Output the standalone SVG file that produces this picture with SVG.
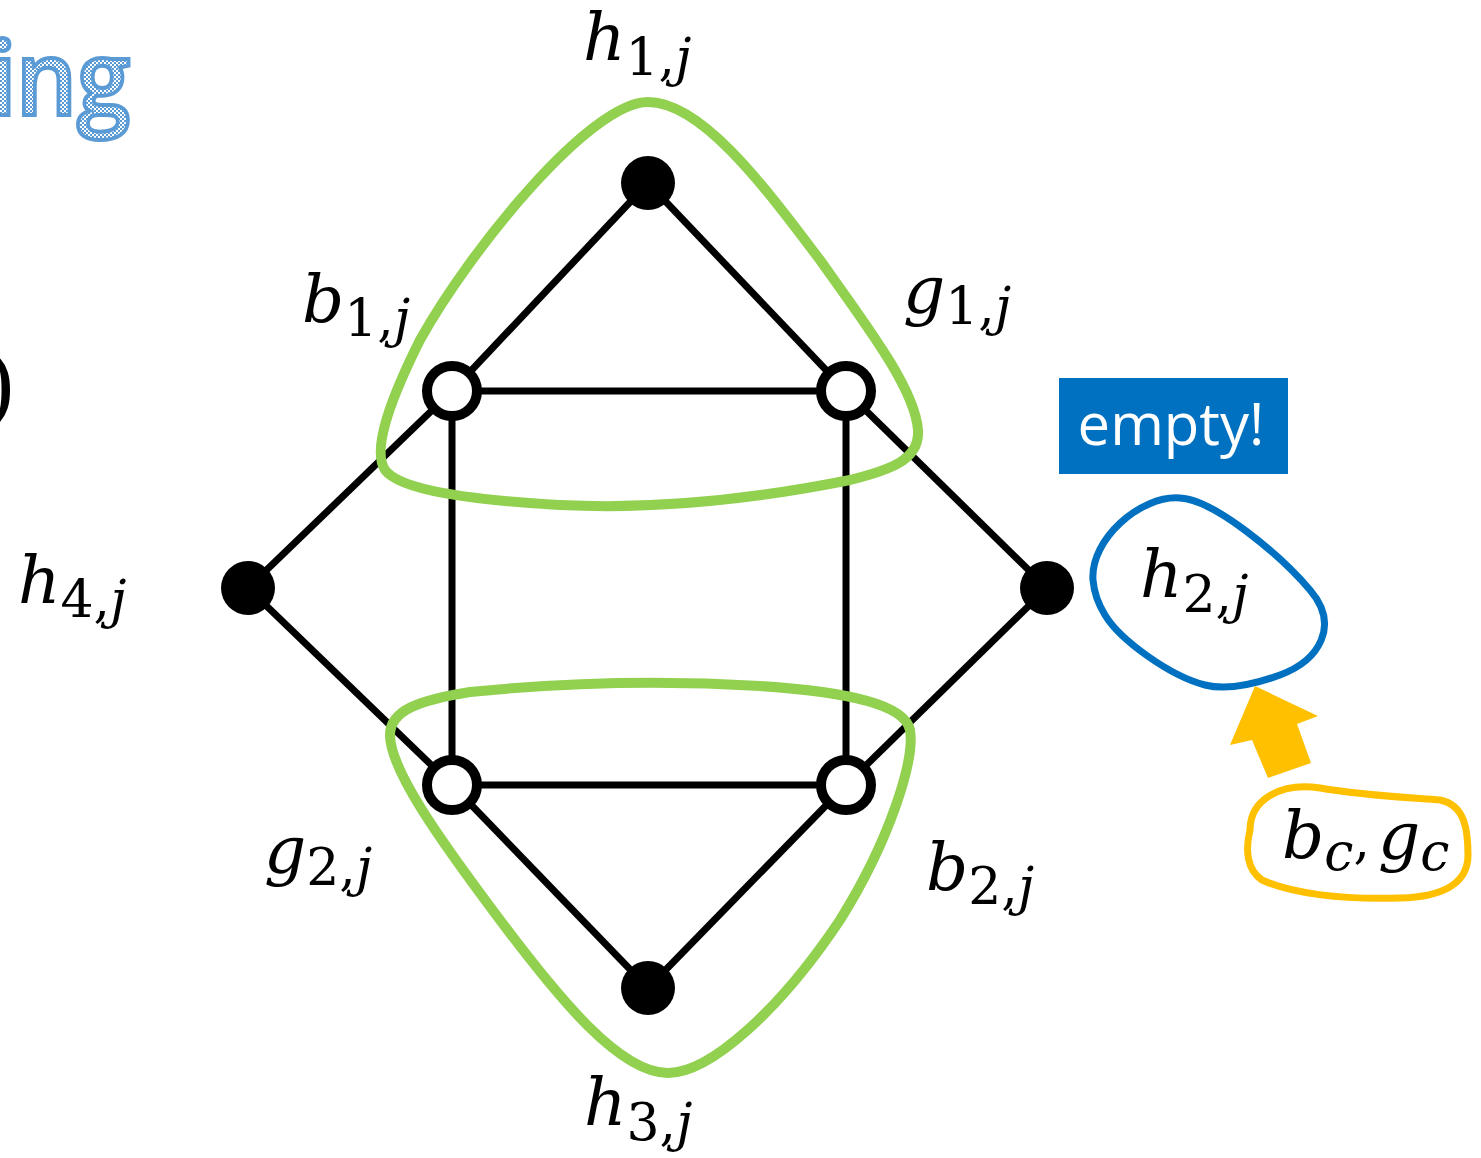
<svg xmlns="http://www.w3.org/2000/svg" width="1481" height="1158" viewBox="0 0 1481 1158">
<defs>
<pattern id="chk" width="4" height="4" patternUnits="userSpaceOnUse">
<rect width="4" height="4" fill="#ffffff"/>
<rect width="2" height="2" fill="#5b9bd5"/>
<rect x="2" y="2" width="2" height="2" fill="#5b9bd5"/>
</pattern>
<style>
.edge{stroke:#000;stroke-width:7;fill:none}
.full{fill:#000}
.open{fill:#fff;stroke:#000;stroke-width:10}
.green{fill:none;stroke:#92d050;stroke-width:10}
.m{font-family:"DejaVu Serif",serif;font-size:66px;fill:#000}
.i{font-style:italic}
.s{font-size:52px}
.ing{font-family:"Open Sans",sans-serif;font-weight:600;font-size:104px;fill:url(#chk);stroke:#5b9bd5;stroke-width:4}
</style>
</defs>
<rect width="1481" height="1158" fill="#fff"/>
<text class="ing" y="115"><tspan x="-12">i</tspan><tspan x="16" textLength="114" lengthAdjust="spacingAndGlyphs">ng</tspan></text>
<text x="14" y="412" text-anchor="end" font-family="Liberation Serif, serif" font-size="90" fill="#000">)</text>

<g id="connectors">
<line class="edge" x1="648" y1="183" x2="452" y2="391"/>
<line class="edge" x1="648" y1="183" x2="846" y2="391"/>
<line class="edge" x1="452" y1="391" x2="846" y2="391"/>
<line class="edge" x1="452" y1="391" x2="248" y2="588"/>
<line class="edge" x1="846" y1="391" x2="1047" y2="588"/>
<line class="edge" x1="452" y1="391" x2="452" y2="785"/>
<line class="edge" x1="846" y1="391" x2="846" y2="785"/>
<line class="edge" x1="248" y1="588" x2="452" y2="785"/>
<line class="edge" x1="1047" y1="588" x2="846" y2="785"/>
<line class="edge" x1="452" y1="785" x2="846" y2="785"/>
<line class="edge" x1="452" y1="785" x2="648" y2="988"/>
<line class="edge" x1="846" y1="785" x2="648" y2="988"/>
</g>

<g id="n-h1"><circle class="full" cx="648" cy="183" r="27"/></g>
<g id="n-b1"><circle class="open" cx="452" cy="391" r="25"/></g>
<g id="n-g1"><circle class="open" cx="846" cy="391" r="25"/></g>
<g id="n-h4"><circle class="full" cx="248" cy="588" r="27"/></g>
<g id="n-h2"><circle class="full" cx="1047" cy="588" r="27"/></g>
<g id="n-g2"><circle class="open" cx="452" cy="785" r="25"/></g>
<g id="n-b2"><circle class="open" cx="846" cy="785" r="25"/></g>
<g id="n-h3"><circle class="full" cx="648" cy="988" r="27"/></g>

<g id="loop-top"><path class="green" d="M648,102 C700,102 760,180 820,260 C870,330 915,390 918,430 C920,460 890,470 850,480 C760,498 660,510 560,505 C470,500 400,490 385,470 C372,450 390,400 420,340 C470,250 590,102 648,102 Z"/></g>
<g id="loop-bottom"><path class="green" d="M668,1073 C620,1073 560,1000 500,920 C440,840 390,770 390,735 C390,710 420,700 470,692 C560,683 660,680 760,686 C850,692 905,705 910,730 C915,760 890,840 840,920 C780,1010 710,1073 668,1073 Z"/></g>

<g id="empty">
<rect x="1059" y="378" width="229" height="96" fill="#0070c0"/>
<text x="1171" y="445" text-anchor="middle" font-family="Open Sans, sans-serif" font-size="58" fill="#fff">empty!</text>
</g>
<g id="blue-loop"><path fill="none" stroke="#0070c0" stroke-width="7" d="M1093,580 C1090,540 1140,495 1180,498 C1215,500 1280,555 1310,590 C1340,625 1320,660 1280,675 C1250,686 1225,690 1205,685 C1170,676 1120,640 1105,615 C1097,602 1094,592 1093,580 Z"/></g>
<g id="arrow"><polygon fill="#ffc000" points="1255,686 1318,716 1297,724 1311,763 1268,778 1252,740 1230,745"/></g>
<g id="yellow-loop"><path fill="none" stroke="#ffc000" stroke-width="7" d="M1250,830 C1250,800 1280,782 1320,788 C1360,795 1400,797 1440,800 C1465,805 1468,830 1468,855 C1468,885 1440,897 1400,898 C1340,900 1290,893 1262,880 C1247,870 1245,850 1250,830 Z"/></g>

<g id="labels">
<text class="m" x="583" y="60"><tspan class="i">h</tspan><tspan class="s" dy="15">1,</tspan><tspan class="s i">j</tspan></text>
<text class="m" x="302" y="322"><tspan class="i">b</tspan><tspan class="s" dy="14">1,</tspan><tspan class="s i">j</tspan></text>
<text class="m" x="903" y="312"><tspan class="i">g</tspan><tspan class="s" dy="12">1,</tspan><tspan class="s i">j</tspan></text>
<text class="m" x="18" y="603"><tspan class="i">h</tspan><tspan class="s" dy="14">4,</tspan><tspan class="s i">j</tspan></text>
<text class="m" x="1140" y="597"><tspan class="i">h</tspan><tspan class="s" dy="15">2,</tspan><tspan class="s i">j</tspan></text>
<text class="m" x="264" y="872"><tspan class="i">g</tspan><tspan class="s" dy="13">2,</tspan><tspan class="s i">j</tspan></text>
<text class="m" x="926" y="890"><tspan class="i">b</tspan><tspan class="s" dy="14">2,</tspan><tspan class="s i">j</tspan></text>
<text class="m" x="584" y="1125"><tspan class="i">h</tspan><tspan class="s" dy="15">3,</tspan><tspan class="s i">j</tspan></text>
<text class="m" x="1282" y="858"><tspan class="i">b</tspan><tspan class="s i" dy="12">c</tspan><tspan class="s" dy="-12">,</tspan><tspan class="i" dx="8">g</tspan><tspan class="s i" dy="12">c</tspan></text>
</g>
</svg>
